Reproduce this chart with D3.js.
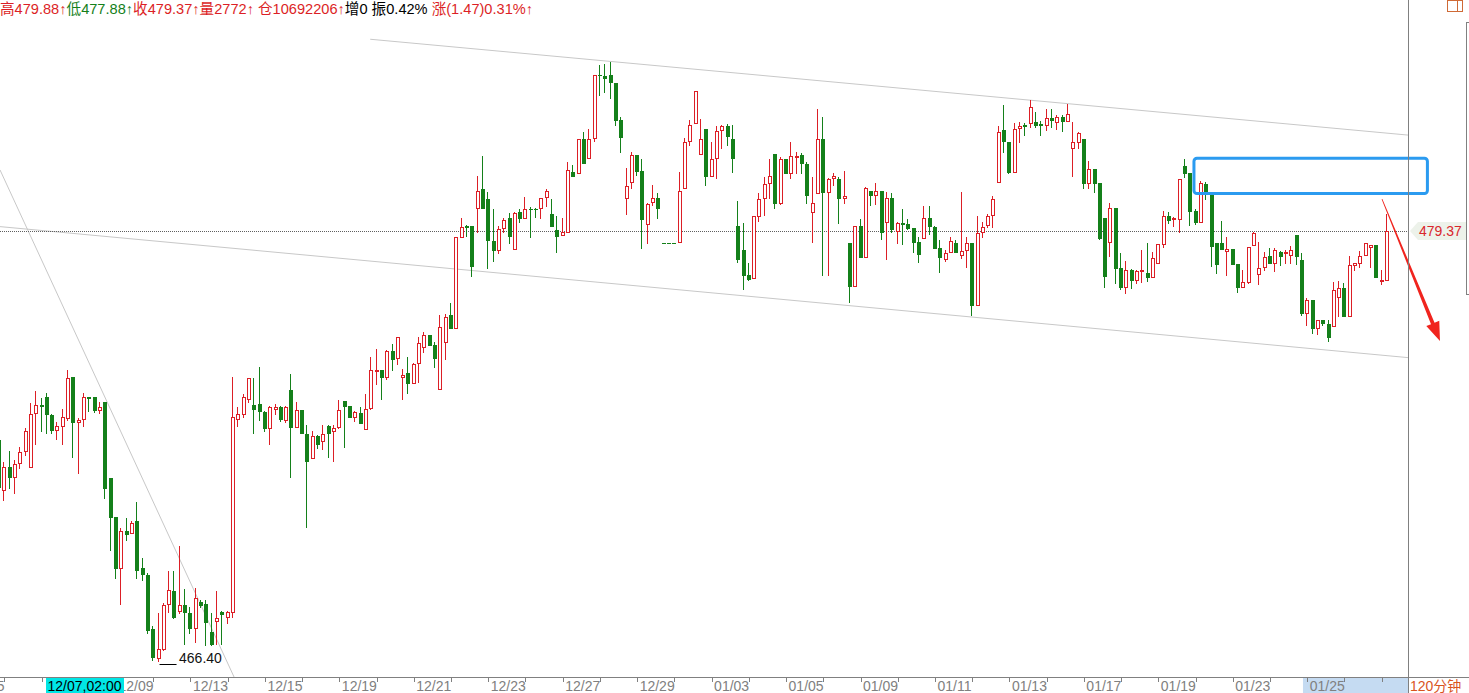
<!DOCTYPE html>
<html><head><meta charset="utf-8">
<script src="https://cdn.jsdelivr.net/npm/d3@7"></script>
<style>html,body{margin:0;padding:0;background:#fff;overflow:hidden}svg{display:block}</style>
</head><body><svg id="c" width="1469" height="693"></svg>
<script>
// ---------- DATA (120-minute bars) ----------
const opens=[473.07,471.56,472.26,471.94,472.36,472.73,472.26,473.87,474.12,474.35,
473.82,473.37,473.49,473.72,474.97,473.62,473.69,474.35,474.35,473.97,
474.22,471.91,470.75,469.22,470.32,470.25,470.62,469.20,468.99,467.36,
466.50,466.75,468.11,468.52,467.92,468.09,467.84,467.39,468.19,468.11,
467.27,467.62,467.89,467.72,467.89,473.69,473.85,474.29,474.12,474.15,
473.92,473.42,473.99,474.05,473.67,474.57,473.47,473.97,473.25,472.53,
473.19,473.03,473.49,473.35,473.45,474.24,474.10,473.77,473.87,473.39,
474.04,475.16,475.18,474.97,475.75,475.53,474.97,475.10,474.77,475.38,
475.86,476.23,475.93,474.59,476.01,476.83,476.43,479.18,479.52,479.52,
480.05,480.62,480.32,479.08,478.81,479.45,479.75,478.84,479.95,479.75,
480.03,480.03,480.05,480.40,479.88,479.40,479.25,479.35,481.16,481.11,
482.15,481.56,482.17,484.08,484.05,484.08,483.83,482.72,480.36,480.84,
481.65,481.18,479.58,480.24,480.36,479.00,479.00,479.00,479.03,480.66,
482.09,482.62,481.69,482.45,481.04,481.56,482.42,482.52,482.15,479.52,
478.80,478.05,477.95,479.81,480.36,480.81,481.70,480.21,481.54,481.11,
481.59,481.65,481.40,479.94,480.51,482.15,480.54,480.96,480.94,480.36,
479.00,477.72,479.52,478.58,480.58,480.44,480.58,479.63,480.36,479.38,
479.61,479.57,479.45,479.03,479.15,479.76,479.50,478.87,478.52,478.73,
479.00,478.65,478.80,479.00,477.14,479.33,479.55,479.86,480.84,482.42,
482.04,481.16,482.46,482.56,482.62,482.65,482.58,482.56,482.77,482.65,
482.80,482.67,481.86,482.06,482.13,480.83,481.23,480.83,479.77,479.03,
480.07,478.26,477.69,478.19,477.89,478.17,478.09,477.99,478.41,478.98,
479.83,479.72,479.72,481.33,481.13,479.98,479.65,480.78,480.50,479.00,
479.00,478.75,478.82,478.37,477.69,477.82,478.95,478.06,478.27,478.60,
478.39,478.72,478.70,478.65,479.25,478.49,476.91,477.29,476.43,476.69,
476.57,476.50,477.37,477.64,476.82,478.34,478.39,478.63,478.88,478.95,
477.87,477.90];
const highs=[473.22,472.41,472.73,472.46,472.84,473.42,474.17,474.54,474.32,474.47,
473.85,473.62,473.99,475.18,474.97,473.72,474.47,474.35,474.37,474.22,
474.22,471.91,470.75,470.40,470.70,470.62,471.21,469.50,469.05,467.46,
467.86,468.14,469.13,469.13,469.87,468.56,468.04,468.59,468.24,468.24,
467.84,468.52,467.92,467.92,474.97,474.07,474.45,474.95,474.95,475.26,
473.95,474.09,474.14,474.09,474.09,475.05,474.22,473.97,473.52,473.34,
473.22,473.52,473.52,473.52,474.27,474.24,474.10,473.94,474.07,474.45,
475.56,475.80,475.18,475.78,475.96,476.18,475.20,475.56,475.40,476.18,
476.31,476.23,476.03,476.83,476.86,477.19,479.20,479.75,479.55,479.52,
481.02,481.63,480.55,480.02,479.52,479.75,479.92,479.95,480.02,480.38,
480.08,480.05,480.37,480.62,480.32,479.82,479.75,481.46,481.36,482.15,
482.35,482.45,484.08,484.38,484.41,484.46,483.83,482.82,481.26,481.74,
481.65,481.53,480.21,480.76,480.51,479.00,479.00,479.00,481.16,482.17,
482.72,483.59,482.75,482.45,482.05,482.52,482.55,482.59,482.55,480.28,
479.61,478.40,479.83,480.51,481.01,481.54,481.70,481.59,481.54,482.05,
481.74,481.72,481.44,480.99,483.05,482.82,480.98,481.11,481.01,481.18,
479.00,479.52,479.73,480.68,480.58,480.83,480.58,480.54,480.51,479.63,
480.03,479.73,479.47,479.20,480.13,480.13,479.52,479.10,478.80,479.20,
479.10,480.53,479.20,479.00,479.83,479.63,479.88,480.43,482.54,483.17,
482.06,482.62,482.64,482.62,483.32,482.97,482.67,483.05,483.04,482.87,
482.87,483.20,482.65,482.36,482.13,481.48,481.24,480.83,479.77,480.20,
480.07,478.70,478.47,478.21,478.19,478.80,479.00,478.72,478.98,479.98,
479.95,479.80,480.93,481.54,481.13,480.02,480.89,480.86,480.50,479.00,
479.67,479.20,478.82,478.37,478.19,478.90,479.35,479.05,478.72,478.85,
478.87,478.75,478.80,478.92,479.25,478.70,477.34,477.29,476.69,476.69,
476.69,477.84,477.87,477.79,478.62,478.41,478.75,479.02,478.95,478.95,
478.19,479.88];
const lows=[471.51,471.26,471.61,471.48,472.21,472.61,472.26,472.96,473.35,473.29,
473.29,473.10,472.96,473.67,472.56,472.06,473.49,473.94,473.92,473.89,
471.31,469.75,468.92,468.11,470.05,470.25,468.92,468.84,467.24,466.42,
466.40,466.73,467.89,467.69,467.86,466.93,467.24,466.98,468.04,466.88,
466.88,466.91,466.93,467.56,467.74,473.49,473.75,474.22,473.27,473.67,
473.35,472.96,473.85,473.65,473.62,471.96,473.45,473.27,470.43,472.51,
472.81,472.78,472.56,472.44,473.42,472.84,473.77,473.65,473.59,473.39,
473.99,474.74,474.30,474.90,475.18,475.35,474.29,474.49,474.77,474.82,
475.73,475.93,475.28,474.59,475.50,476.43,476.43,479.18,479.23,478.02,
479.35,480.05,478.26,478.47,478.69,479.35,479.02,478.84,479.65,479.75,
479.20,479.78,479.77,480.12,479.52,478.74,479.25,479.35,481.04,481.11,
481.41,481.56,482.07,483.47,483.57,483.37,482.57,481.74,479.88,480.66,
481.06,478.85,479.02,480.14,479.76,479.00,479.00,479.00,479.03,480.66,
481.95,482.62,481.69,480.76,481.04,480.96,481.87,481.95,481.14,478.43,
477.61,477.88,477.95,479.66,479.84,480.36,480.06,480.18,481.11,480.96,
481.11,481.11,480.21,479.03,480.51,478.03,478.03,480.76,479.61,480.21,
477.22,477.72,478.58,478.58,480.14,480.18,479.12,478.53,479.35,479.00,
478.97,479.43,478.73,478.43,479.15,479.27,478.87,478.13,478.45,478.73,
478.73,478.55,478.28,476.84,477.14,479.20,479.50,479.50,480.84,481.74,
481.11,481.16,482.06,482.26,482.51,482.51,482.26,482.41,482.51,482.44,
482.39,482.67,481.04,481.86,480.66,480.66,480.55,479.13,477.67,478.62,
477.81,477.61,477.51,477.66,477.81,477.84,477.87,477.99,478.41,478.90,
479.62,479.52,479.35,480.99,479.55,479.58,479.65,480.32,478.32,478.11,
478.82,478.04,478.37,477.52,477.69,477.79,478.95,477.76,478.19,478.39,
478.17,478.34,478.41,478.39,478.37,476.84,476.53,476.30,476.26,476.53,
476.06,476.50,476.79,476.79,476.82,478.19,478.27,478.63,478.29,477.99,
477.76,477.88];
const closes=[471.66,472.26,471.94,472.34,472.69,473.34,473.85,474.12,474.10,473.85,
473.37,473.49,473.75,474.95,473.62,473.67,474.35,474.33,473.97,474.07,
471.61,470.75,469.20,470.32,470.24,470.55,469.15,469.02,467.34,466.53,
466.75,468.08,468.54,467.74,468.09,467.89,467.39,468.29,468.09,467.59,
466.91,467.69,467.81,467.87,473.75,473.85,474.35,474.95,473.99,473.95,
473.42,474.05,474.05,473.69,474.05,473.47,473.97,473.27,472.44,473.19,
472.96,473.25,473.27,473.42,473.97,474.10,473.77,473.90,473.59,473.99,
475.18,475.18,474.97,475.75,475.51,476.16,475.04,474.77,475.36,475.98,
476.23,475.93,475.53,476.46,476.76,476.43,479.20,479.50,479.50,478.31,
480.57,480.05,479.10,478.81,479.42,479.70,479.23,479.92,479.75,480.02,
480.02,480.02,480.35,480.57,479.53,479.23,479.35,481.21,481.04,482.14,
481.41,482.15,484.08,484.06,483.98,483.86,482.72,482.19,480.73,481.65,
481.19,479.73,480.19,480.36,480.06,479.00,479.00,479.00,480.58,482.05,
482.57,483.59,482.14,481.04,481.54,482.39,482.52,482.22,481.56,478.52,
478.05,477.93,479.83,480.34,480.79,481.03,480.21,481.53,481.11,481.63,
481.63,481.41,480.46,480.21,482.15,480.54,480.94,481.03,480.36,480.43,
477.72,479.52,478.58,480.66,480.44,480.58,479.35,480.36,479.42,479.61,
479.58,479.47,479.05,478.68,479.76,479.53,478.87,478.58,478.70,479.07,
478.73,478.75,479.00,477.14,479.30,479.50,479.83,480.33,482.35,482.07,
481.16,482.43,482.53,482.54,483.10,482.57,482.55,482.77,482.72,482.82,
482.67,482.90,482.04,482.33,480.83,481.24,480.83,479.17,478.02,480.07,
478.26,477.69,478.19,477.89,478.16,478.19,477.99,478.54,478.98,479.82,
479.70,479.77,480.93,481.11,479.98,479.65,480.81,480.55,478.93,478.37,
478.82,478.82,478.37,477.69,477.82,478.90,479.30,478.24,478.57,478.39,
478.80,478.60,478.72,478.80,478.60,476.91,477.29,476.43,476.69,476.59,
476.18,477.59,477.64,476.81,478.34,478.39,478.62,479.00,478.95,477.99,
477.90,479.37];

const dateLabels=["12/05","12/07","12/09","12/13","12/15","12/19","12/21","12/23","12/27","12/29",
  "01/03","01/05","01/09","01/11","01/13","01/17","01/19","01/23","01/25"];
const firstLabelBar=-6, barsPerLabel=14, barsPerTick=7;
const volume=2772, openInterest=10692206, oiChange=0;
const cursorLabel="12/07,02:00", cursorBar=8.84;
const highlightFromBar=245.2;
const lowBar=30, lowValue=466.40;
const periodLabel="120分钟";
// drawn trend lines: [bar index, price]
const upperChannel=[[69.8,485.15],[264.95,482.26]];
const lowerChannel=[[0.19,479.50],[264.95,475.55]];
const fallLine=[[0.19,481.21],[44.2,465.92]];
const boxZone={b0:224.7,b1:268.6,p0:481.56,p1:480.50};
const arrowLine=[[260.06,480.33],[270.96,476.05]];

// ---------- SETUP ----------
const W=1469,H=693, plotR=1408, axisY=677, topY=20;
const RED="#dc1f26", GREEN="#14801a";
const svg=d3.select("#c");
const n=closes.length;
const x=d3.scaleLinear().domain([0,n-1]).range([-1,1387]);
const y=d3.scaleLinear().domain([465.92,485.73]).range([axisY,topY]);
const FONT="'Liberation Sans', Arial, 'Noto Sans CJK SC', sans-serif";

svg.append("rect").attr("width",W).attr("height",H).attr("fill","#fff");
svg.append("defs").append("clipPath").attr("id","plot")
  .append("rect").attr("x",0).attr("y",0).attr("width",plotR).attr("height",axisY);

const plot=svg.append("g").attr("clip-path","url(#plot)");

// trend lines
const line=d3.line().x(d=>x(d[0])).y(d=>y(d[1]));
[upperChannel,lowerChannel,fallLine].forEach(l=>{
  plot.append("path").attr("d",line(l)).attr("fill","none").attr("stroke","#c8c8c8").attr("stroke-width",1);
});

// last price dotted line
const lastClose=closes[n-1];
const ly=Math.round(y(lastClose))+0.5;
plot.append("line").attr("x1",0).attr("x2",plotR).attr("y1",ly).attr("y2",ly)
  .attr("stroke","#5f5f5f").attr("stroke-dasharray","1,1").attr("stroke-width",1);

// candles
const bars=d3.range(n).map(i=>({i,o:opens[i],h:highs[i],l:lows[i],c:closes[i]}));
const g=plot.append("g");
bars.forEach(d=>{
  const p=Math.round(x(d.i));
  const up=d.c>d.o;
  const col=up?RED:GREEN;
  const yt=Math.round(y(Math.max(d.o,d.c))), yb=Math.round(y(Math.min(d.o,d.c)));
  const yh=Math.round(y(d.h)), yl=Math.round(y(d.l));
  if(up){
    if(yh<yt) g.append("line").attr("x1",p-0.5).attr("x2",p-0.5).attr("y1",yh).attr("y2",yt).attr("stroke",col);
    if(yl>yb) g.append("line").attr("x1",p-0.5).attr("x2",p-0.5).attr("y1",yb+1).attr("y2",yl+1).attr("stroke",col);
    g.append("rect").attr("x",p-1.5).attr("y",yt+0.5).attr("width",3).attr("height",Math.max(1,yb-yt))
      .attr("fill","#fff").attr("stroke",col).attr("stroke-width",1);
  } else {
    if(yl>yh) g.append("line").attr("x1",p-0.5).attr("x2",p-0.5).attr("y1",yh).attr("y2",yl+1).attr("stroke",col);
    g.append("rect").attr("x",p-2).attr("y",yt).attr("width",4).attr("height",Math.max(1,yb-yt+1)).attr("fill",col);
  }
});

// lowest point annotation
const lx=x(lowBar), lyy=Math.round(y(lowValue))+3.5;
svg.append("line").attr("x1",lx+1).attr("x2",lx+18).attr("y1",lyy).attr("y2",lyy).attr("stroke","#000");
svg.append("text").attr("x",lx+20.5).attr("y",y(lowValue)+1.5).attr("font-family",FONT).attr("font-size",14)
  .attr("fill","#111").text(lowValue.toFixed(2));

// blue zone box
svg.append("rect").attr("x",x(boxZone.b0)).attr("y",y(boxZone.p0))
  .attr("width",x(boxZone.b1)-x(boxZone.b0)).attr("height",y(boxZone.p1)-y(boxZone.p0))
  .attr("rx",3).attr("fill","none").attr("stroke","#2b9bf0").attr("stroke-width",3);

// red arrow (tapered)
(function(){
  const x0=x(arrowLine[0][0]), y0=y(arrowLine[0][1]), x1=x(arrowLine[1][0]), y1=y(arrowLine[1][1]);
  const dx=x1-x0, dy=y1-y0, L=Math.hypot(dx,dy), ux=dx/L, uy=dy/L, px=-uy, py=ux;
  const hl=19, hw=7;
  const bx=x1-ux*hl, by=y1-uy*hl;
  const w0=0.4, w1=1.9;
  const pts=[[x0+px*w0,y0+py*w0],[bx+px*w1,by+py*w1],[bx+px*hw,by+py*hw],[x1,y1],
    [bx-px*hw,by-py*hw],[bx-px*w1,by-py*w1],[x0-px*w0,y0-py*w0]];
  svg.append("polygon").attr("points",pts.map(q=>q.join(",")).join(" ")).attr("fill","#f0241e");
})();

// frame lines
svg.append("line").attr("x1",plotR+0.5).attr("x2",plotR+0.5).attr("y1",0).attr("y2",H).attr("stroke","#808080");
svg.append("line").attr("x1",0).attr("x2",W).attr("y1",axisY+0.5).attr("y2",axisY+0.5).attr("stroke","#808080");
svg.append("line").attr("x1",1466.5).attr("x2",1466.5).attr("y1",22).attr("y2",295).attr("stroke","#808080");
[22.5,294.5].forEach(v=>svg.append("line").attr("x1",1466).attr("x2",W).attr("y1",v).attr("y2",v).attr("stroke","#808080"));

// top-right icon
svg.append("rect").attr("x",1447.5).attr("y",0.5).attr("width",15).attr("height",11).attr("fill","none").attr("stroke","#cf6a36");
svg.append("line").attr("x1",1457.5).attr("x2",1457.5).attr("y1",0).attr("y2",12).attr("stroke","#cf6a36");

// last price label
const lp=y(lastClose);
svg.append("polygon").attr("points",[[1410,lp],[1418,lp-9],[1466,lp-9],[1466,lp+9],[1418,lp+9]].map(q=>q.join(",")).join(" "))
  .attr("fill","#edf2ea");
svg.append("text").attr("x",1419).attr("y",lp+5).attr("font-family",FONT).attr("font-size",14).attr("fill","#d9262c")
  .text(lastClose.toFixed(2));

// bottom axis: highlight, ticks, labels
const ag=svg.append("g");
ag.append("rect").attr("x",x(highlightFromBar)).attr("y",axisY+1).attr("width",plotR-x(highlightFromBar)).attr("height",H-axisY-1)
  .attr("fill","#c5dbf2");
const tickBars=d3.range(firstLabelBar,n,barsPerTick);
ag.selectAll("line.tk").data(tickBars).join("line").attr("class","tk")
  .attr("x1",d=>Math.round(x(d))+0.5).attr("x2",d=>Math.round(x(d))+0.5)
  .attr("y1",axisY+1).attr("y2",axisY+5).attr("stroke","#808080");
const cx0=x(cursorBar), cx1=cx0+78;
const labelData=dateLabels.map((t,k)=>({t,b:firstLabelBar+k*barsPerLabel}))
  .filter(d=>!(x(d.b)+2.5>=cx0-2 && x(d.b)+38<=cx1+2)); // labels hidden under the cursor time box
ag.selectAll("text.lb").data(labelData).join("text").attr("class","lb")
  .attr("x",d=>x(d.b)+2.5).attr("y",691)
  .attr("font-family",FONT).attr("font-size",14).attr("fill","#808080").text(d=>d.t);
// cursor time label
ag.append("rect").attr("x",cx0).attr("y",axisY+1).attr("width",78).attr("height",H-axisY-1).attr("fill","#00e6e6");
ag.append("text").attr("x",cx0+1.5).attr("y",691).attr("font-family",FONT).attr("font-size",14)
  .attr("fill","#000").text(cursorLabel);
ag.append("text").attr("x",1410).attr("y",691).attr("font-family",FONT).attr("font-size",14).attr("fill","#d9541e").text(periodLabel);

// header quote line
const last=bars[n-1], prevClose=closes[n-2];
const chg=last.c-prevClose;
const header=[
  {t:"高"+last.h.toFixed(2)+"↑",c:RED},
  {t:"低"+last.l.toFixed(2)+"↑",c:GREEN},
  {t:"收"+last.c.toFixed(2)+"↑",c:RED},
  {t:"量"+volume+"↑",c:RED},
  {t:" 仓"+openInterest+"↑",c:RED},
  {t:"增"+oiChange,c:"#000"},
  {t:" 振"+((last.h-last.l)/prevClose*100).toFixed(2)+"%",c:"#000"},
  {t:" 涨("+chg.toFixed(2)+")"+(chg/prevClose*100).toFixed(2)+"%↑",c:RED}
];
const ht=svg.append("text").attr("x",0).attr("y",14).attr("font-family",FONT).attr("font-size",14.6).attr("xml:space","preserve");
header.forEach(h=>ht.append("tspan").attr("fill",h.c).text(h.t));
</script></body></html>
